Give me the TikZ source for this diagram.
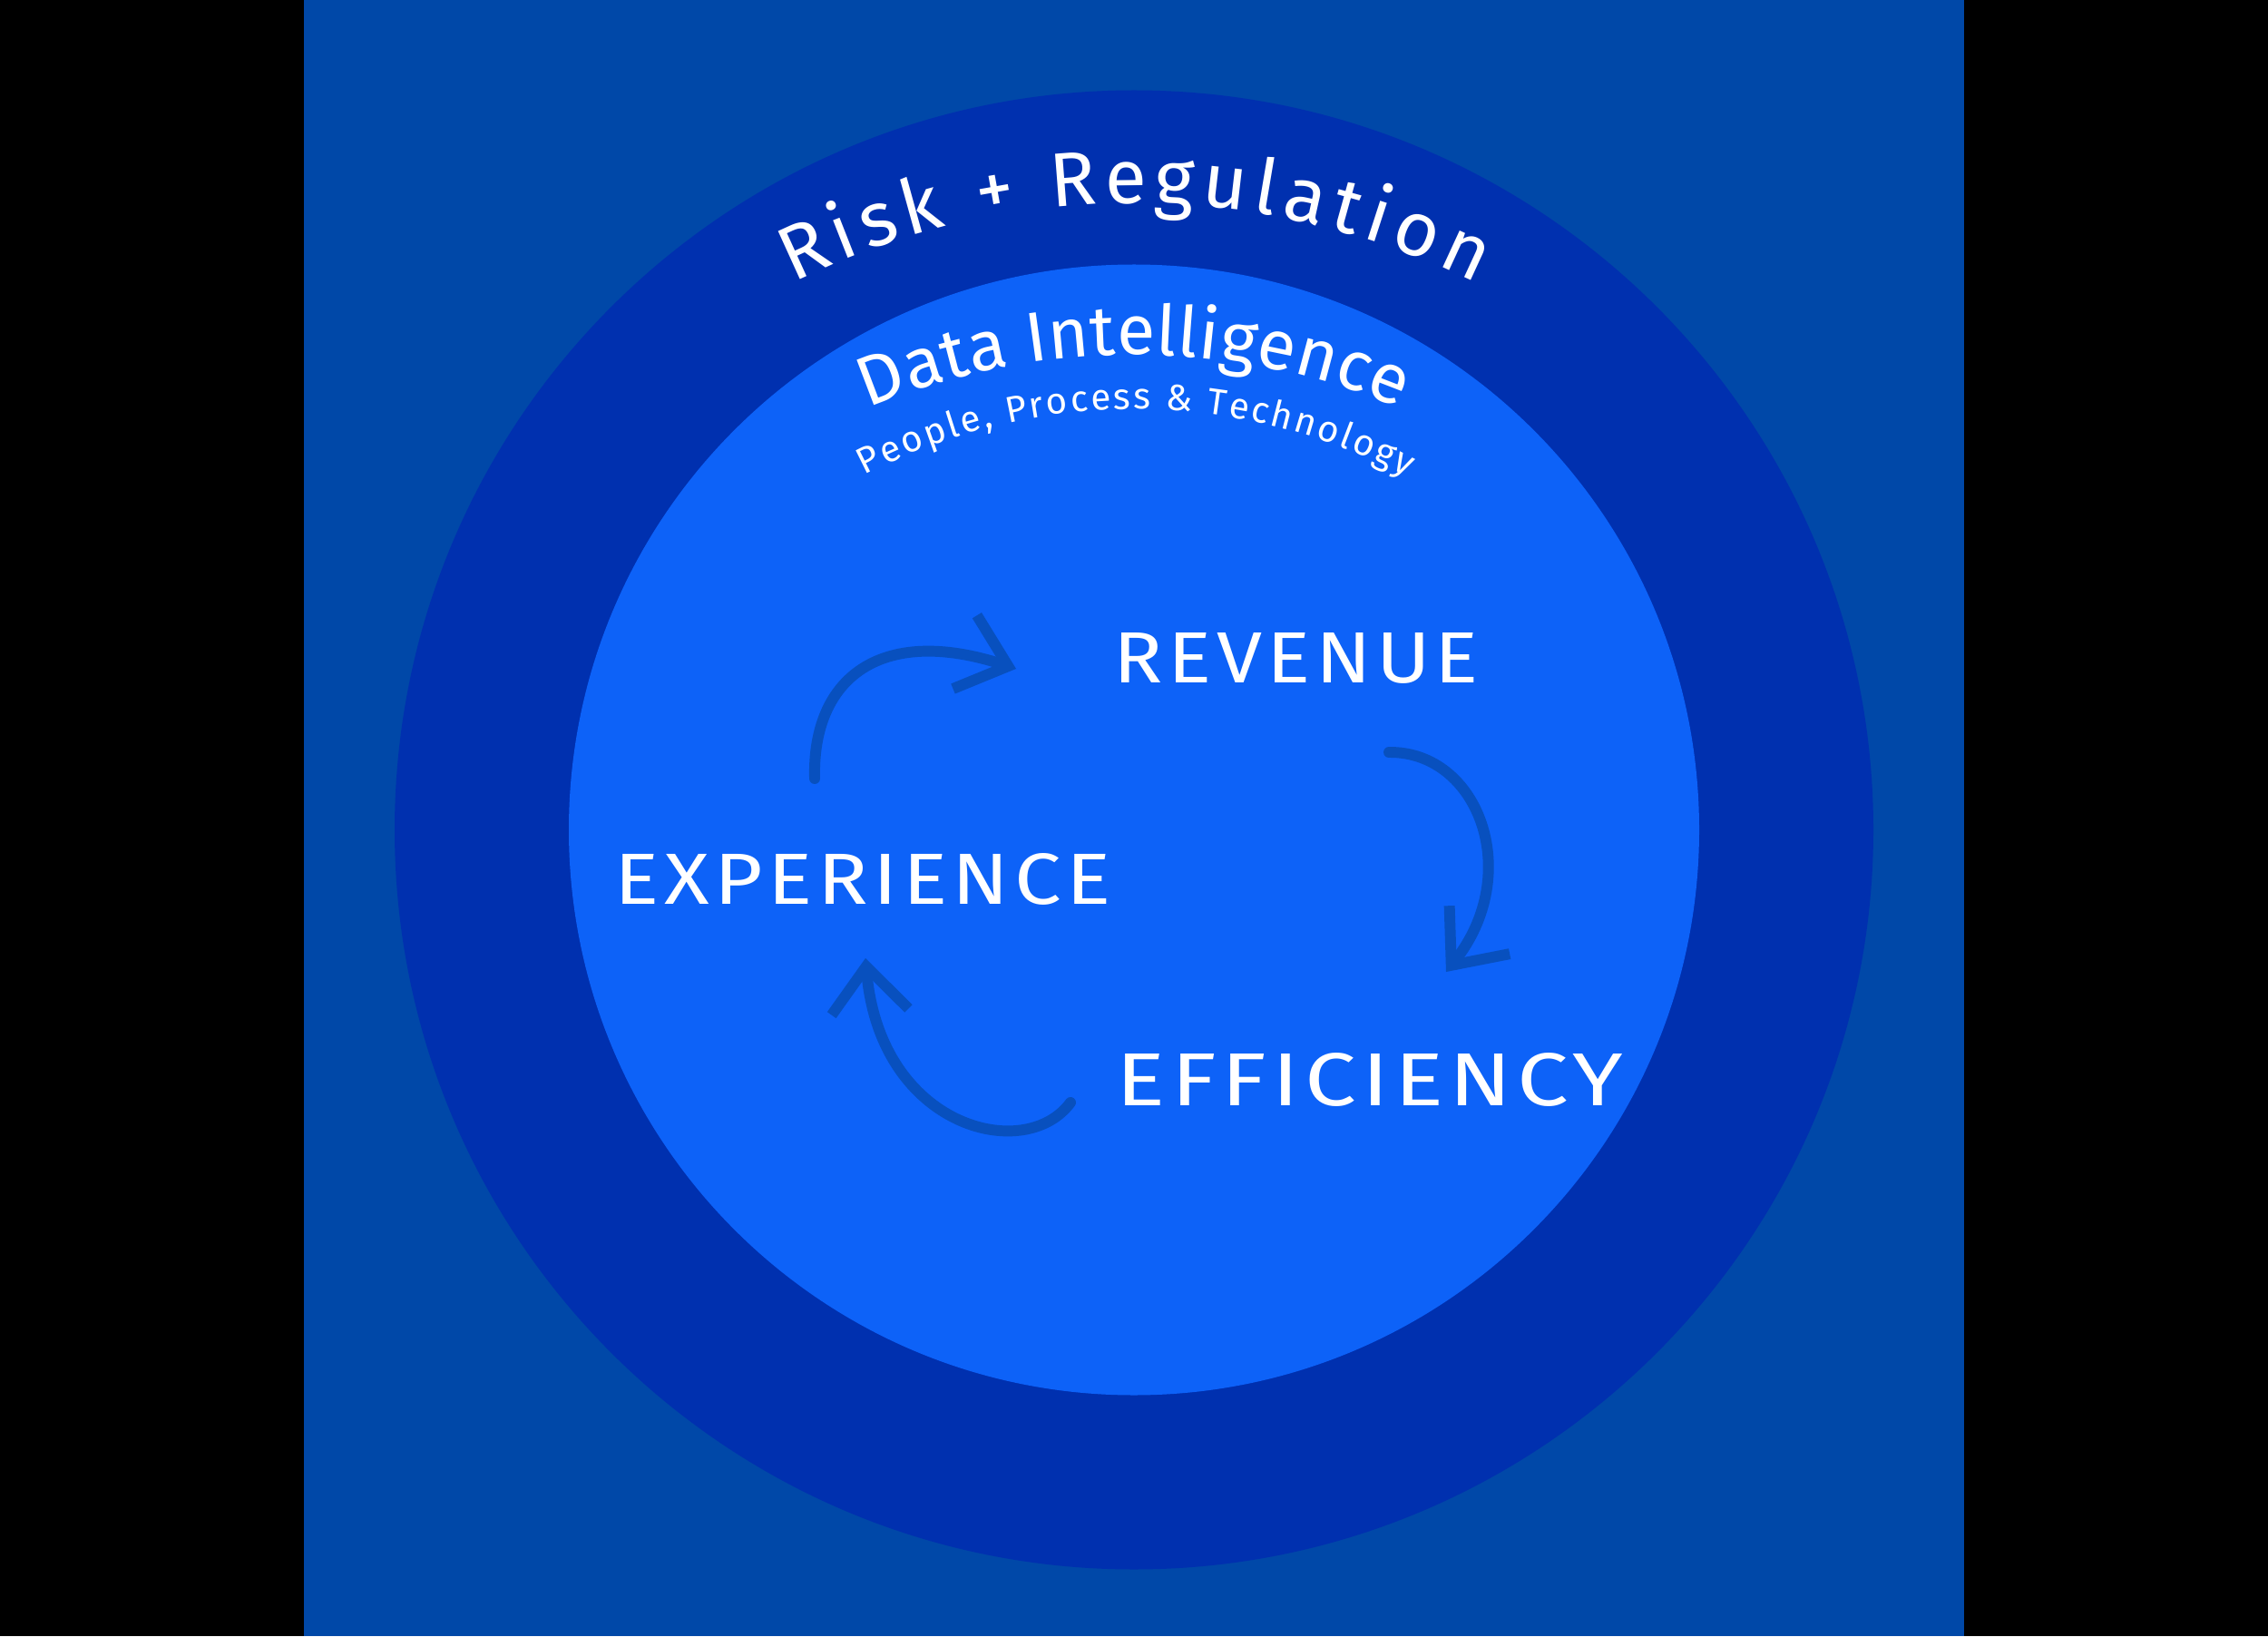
\documentclass[tikz,border=0pt]{standalone}
\usepackage{fontspec}
\usepackage{graphicx}
\setmainfont{Fira Sans}
\newfontfamily\handfont{Fira Sans}
\newfontfamily\capsfont[LetterSpace=6]{Fira Sans}
\usetikzlibrary{decorations.text,arrows.meta}
\definecolor{bgblue}{RGB}{0,72,168}
\definecolor{ringblue}{RGB}{0,48,175}
\definecolor{coreblue}{RGB}{13,98,248}
\definecolor{arrowblue}{RGB}{8,80,190}
\tikzset{
  caplabel/.style={text=white, inner sep=0pt, font=\capsfont},
  cyclearrow/.style={draw=arrowblue, line width=3.4pt, line cap=round,
    -{Straight Barb[length=0.5cm,width=0.85cm]}},
  arctext/.style={decorate, decoration={text along path, text align={fit to path}, text color=white, text={#1}}}
}
\begin{document}
\begin{tikzpicture}
\useasboundingbox (0,0) rectangle (25,18.03);
\fill[black] (0,0) rectangle (25,18.03);
\fill[bgblue] (3.35,0) rectangle (21.65,18.03);
\fill[ringblue] (12.5,8.885) circle[radius=8.15cm];
\fill[coreblue] (12.5,8.885) circle[radius=6.23cm];

% curved titles
\path[arctext={|\fontsize{24}{24}\handfont|Risk + Regulation}]
  (12.5,7.28) ++(116.2:8.51) arc[start angle=116.2, end angle=63.6, radius=8.51cm];
\path[arctext={|\fontsize{22}{22}\handfont|Data Intelligence}]
  (12.5,6.53) ++(112.7:7.59) arc[start angle=112.7, end angle=67.3, radius=7.59cm];
\path[arctext={|\fontsize{11.5}{11.5}\handfont|People, Process {\&} Technology}]
  (12.5,7.085) ++(117.5:6.435) arc[start angle=117.5, end angle=62.1, radius=6.435cm];

% labels
\node[caplabel] (rev) at (14.29,10.78) {\resizebox{4.02cm}{0.55cm}{REVENUE}};
\node[caplabel] (exp) at (9.51,8.34) {\resizebox{5.47cm}{0.56cm}{EXPERIENCE}};
\node[caplabel] (eff) at (15.10,6.13) {\resizebox{5.58cm}{0.58cm}{EFFICIENCY}};

% cycle arrows
\coordinate (a1s) at (8.98,9.45);  \coordinate (a1e) at (11.20,10.66);
\coordinate (a2s) at (15.31,9.74); \coordinate (a2e) at (15.94,7.32);
\coordinate (a3s) at (11.80,5.88); \coordinate (a3e) at (9.54,7.47);
\draw[cyclearrow] (a1s) .. controls (8.95,10.55) and (9.7,11.15) .. (a1e);
\draw[cyclearrow] (a2s) .. controls (16.3,9.75) and (16.8,8.4) .. (a2e);
\draw[cyclearrow] (a3s) .. controls (11.3,5.2) and (9.7,5.6) .. (a3e);
\end{tikzpicture}
\end{document}
